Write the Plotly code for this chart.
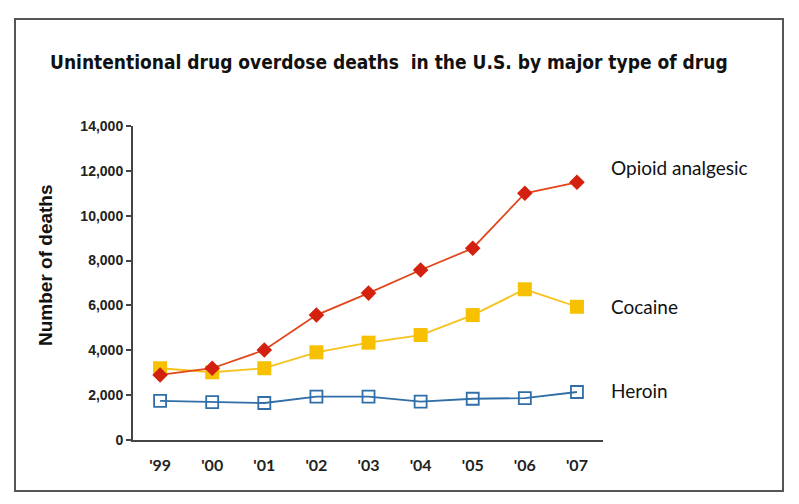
import plotly.graph_objects as go

years = ["'99", "'00", "'01", "'02", "'03", "'04", "'05", "'06", "'07"]
opioid = [2900, 3200, 4010, 5570, 6550, 7580, 8550, 11000, 11490]
cocaine = [3200, 3020, 3200, 3910, 4340, 4680, 5570, 6720, 5940]
heroin = [1740, 1690, 1650, 1930, 1930, 1710, 1840, 1870, 2140]
series_names = ["Opioid analgesic", "Cocaine", "Heroin"]
y_ticks = [0, 2000, 4000, 6000, 8000, 10000, 12000, 14000]
title_text = "Unintentional drug overdose deaths  in the U.S. by major type of drug"
y_title = "Number of deaths"

# page has an 8px body margin; work in figure pixels
OFF = 8
W, H = 799 - 2 * OFF, 504 - 2 * OFF
L, R, T, B = 133 - OFF, 603 - OFF, 126 - OFF, 440 - OFF  # plot area pixels

xi = list(range(len(years)))

fig = go.Figure()
fig.add_trace(go.Scatter(
    x=xi, y=heroin, mode="lines+markers", name=series_names[2],
    line=dict(color="#2F6EA6", width=1.8),
    marker=dict(symbol="square-open", size=12, color="#2F6EA6", line=dict(width=1.8)),
))
fig.add_trace(go.Scatter(
    x=xi, y=cocaine, mode="lines+markers", name=series_names[1],
    line=dict(color="#F6C21C", width=1.8),
    marker=dict(symbol="square", size=14, color="#F7C000"),
))
fig.add_trace(go.Scatter(
    x=xi, y=opioid, mode="lines+markers", name=series_names[0],
    line=dict(color="#E2461C", width=1.8),
    marker=dict(symbol="diamond", size=12, color="#D4200F"),
))


def px_x(p):
    return (p - OFF - L) / (R - L)


def px_y(p):
    return (B - (p - OFF)) / (B - T)


label_font = dict(family="Lato, 'Open Sans', sans-serif", size=19, color="#111")
label_py = [167, 306, 390]
for name, py in zip(series_names, label_py):
    fig.add_annotation(x=px_x(609), y=px_y(py), xref="paper", yref="paper", text=name,
                       showarrow=False, xanchor="left", yanchor="middle", font=label_font)

# y-axis title
fig.add_annotation(x=px_x(45), y=px_y(265), xref="paper", yref="paper", text=y_title,
                   textangle=-90, showarrow=False, xanchor="center", yanchor="middle",
                   font=dict(family="'Liberation Sans', Arial, sans-serif", size=19,
                             color="#111", weight="bold"))

fig.add_shape(type="rect", xref="paper", yref="paper",
              x0=px_x(15), x1=px_x(783), y0=px_y(491), y1=px_y(19),
              line=dict(color="#555555", width=2), layer="below")

fig.update_layout(
    width=W, height=H,
    margin=dict(l=L, r=W - R, t=T, b=H - B, pad=0),
    paper_bgcolor="white", plot_bgcolor="white",
    showlegend=False,
    title=dict(text=title_text, x=(50 - OFF) / W, xanchor="left", xref="container",
               y=1 - (62 - OFF) / H, yanchor="middle", yref="container",
               font=dict(family="'DejaVu Sans Condensed', 'Liberation Sans Narrow', sans-serif",
                         size=19, color="#111", weight="bold")),
)
fig.update_xaxes(
    range=[-0.52, 8.5], tickmode="array", tickvals=xi, ticktext=years,
    showline=True, linecolor="#444", linewidth=2, showgrid=False, zeroline=False,
    ticks="", ticklabelstandoff=10,
    tickfont=dict(family="Lato, sans-serif", size=16, color="#222", weight="bold"),
)
fig.update_yaxes(
    range=[0, 14000], tickmode="array", tickvals=y_ticks,
    ticktext=[f"{v:,}" for v in y_ticks],
    showline=True, linecolor="#444", linewidth=2, showgrid=False, zeroline=False,
    ticks="outside", ticklen=5, tickwidth=2, tickcolor="#444",
    tickfont=dict(family="'Liberation Sans', Arial, sans-serif", size=14, color="#222", weight="bold"),
)

fig.write_html("out.html")
